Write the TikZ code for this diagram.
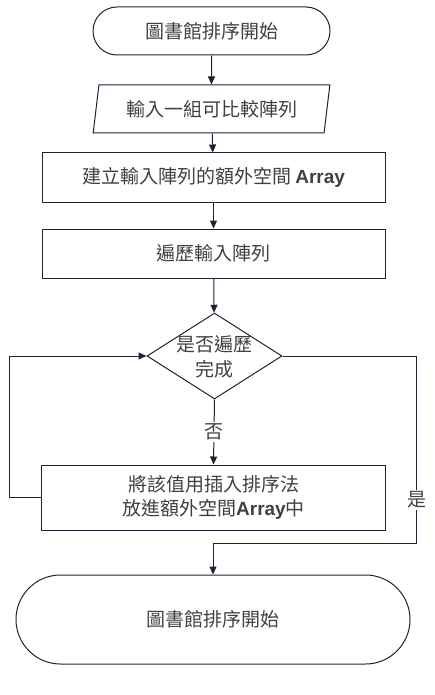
\documentclass[tikz,border=0pt]{standalone}
\usepackage{fontspec}
\setmainfont{Noto Sans CJK TC}
\newfontfamily\latinfont{Liberation Sans}
\usetikzlibrary{shapes.geometric,shapes.misc,arrows.meta}
\definecolor{edgeclr}{HTML}{1E2235}
\definecolor{txtclr}{HTML}{404040}
\newcommand{\arr}{{\latinfont\bfseries Array}}
\tikzset{
  base/.style={draw=edgeclr, line width=1pt, text=txtclr, inner sep=0pt,
    font=\fontsize{19}{24}\selectfont, align=center},
  terminal/.style={base, rounded rectangle},
  iobox/.style={base, trapezium, trapezium left angle=76, trapezium right angle=104,
    trapezium stretches=true},
  procbox/.style={base, rectangle},
  decision/.style={base, diamond},
  flow/.style={draw=edgeclr, line width=1pt, -{Triangle[length=8pt,width=7pt]}},
  conn/.style={draw=edgeclr, line width=1pt},
  lbl/.style={text=txtclr, fill=white, inner sep=1.5pt, font=\fontsize{19}{24}\selectfont}
}
\begin{document}
\begin{tikzpicture}[x=1pt,y=-1pt]
\useasboundingbox (0,0) rectangle (434,695);

\node[terminal, minimum width=237pt, minimum height=48pt] (start) at (211.5,31) {圖書館排序開始};
\node[iobox, minimum width=237pt, minimum height=48pt] (input) at (211.5,109) {輸入一組可比較陣列};
\node[procbox, minimum width=343pt, minimum height=49pt] (mk) at (213.5,177.5) {建立輸入陣列的額外空間 \arr};
\node[procbox, minimum width=343pt, minimum height=49pt] (trav) at (213.5,253.5) {遍歷輸入陣列};
\node[decision, minimum width=135pt, minimum height=86pt] (dec) at (214.5,356) {};
\node[text=txtclr, font=\fontsize{19}{25}\selectfont, align=center, inner sep=0pt] (dtext) at (214.5,357) {是否遍歷\\完成};
\node[procbox, minimum width=344pt, minimum height=65pt] (ins) at (213.5,497.5) {將該值用插入排序法\\放進額外空間\arr 中};
\node[terminal, minimum width=394pt, minimum height=89pt] (finish) at (213,619.5) {圖書館排序開始};

\coordinate (lp) at (9,497.5);
\coordinate (rp) at (416.5,543);

\draw[flow] (start) -- (input);
\draw[flow] (input) -- (mk);
\draw[flow] (mk) -- (trav);
\draw[flow] (trav) -- (dec);
\draw[flow] (dec.south) -- node[lbl, pos=0.5] (no) {否} (ins.north);
\draw[flow] (ins.west) -- (ins.west -| lp) |- (dec.west);
\draw[conn] (dec.east) -| (rp);
\draw[flow] (rp) -| (finish.north);
\node[lbl] (yes) at (416.5,500) {是};
\end{tikzpicture}
\end{document}
